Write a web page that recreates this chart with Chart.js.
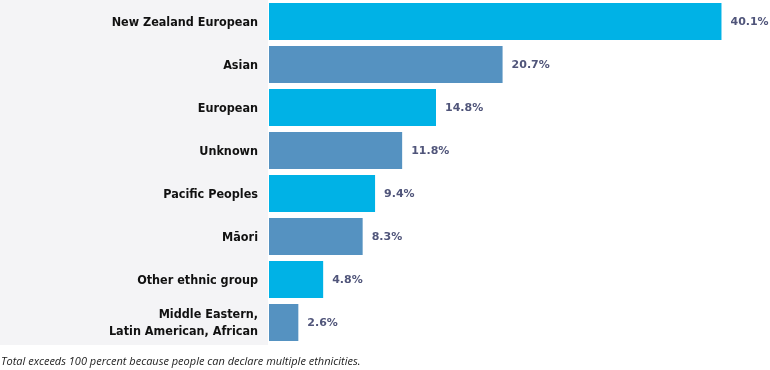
<!DOCTYPE html>
<html>
<head>
<meta charset="utf-8">
<script src="https://cdn.jsdelivr.net/npm/chart.js@4"></script>
<style>
html,body{margin:0;padding:0;background:#fff;}
#wrap{position:relative;width:770px;height:370px;}
</style>
</head>
<body>
<div id="wrap"><canvas id="c" width="770" height="370"></canvas></div>
<script>
const categories = [
  "New Zealand European",
  "Asian",
  "European",
  "Unknown",
  "Pacific Peoples",
  "Māori",
  "Other ethnic group",
  ["Middle Eastern,", "Latin American, African"]
];
const values = [40.1, 20.7, 14.8, 11.8, 9.4, 8.3, 4.8, 2.6];
const valueLabels = ["40.1%", "20.7%", "14.8%", "11.8%", "9.4%", "8.3%", "4.8%", "2.6%"];
const footnote = "Total exceeds 100 percent because people can declare multiple ethnicities.";

const CYAN = "#00b2e6";
const STEEL = "#5592c1";
const barColors = values.map((v, i) => i % 2 === 0 ? CYAN : STEEL);

const panelPlugin = {
  id: "panel",
  beforeDraw(chart) {
    const ctx = chart.ctx;
    ctx.save();
    ctx.fillStyle = "#f4f4f6";
    ctx.fillRect(0, 0, 268, 345);
    ctx.restore();
  },
  afterDraw(chart) {
    const ctx = chart.ctx;
    const yScale = chart.scales.y;
    ctx.save();
    // category labels
    ctx.fillStyle = "#111";
    ctx.font = "bold 12.5px 'DejaVu Sans Condensed', 'DejaVu Sans', sans-serif";
    ctx.textAlign = "right";
    ctx.textBaseline = "middle";
    chart.data.labels.forEach((lab, i) => {
      const y = yScale.getPixelForValue(i) + 1;
      const lines = Array.isArray(lab) ? lab : [lab];
      const lh = 17;
      const start = y - (lines.length - 1) * lh / 2;
      lines.forEach((ln, j) => ctx.fillText(ln, 258, start + j * lh));
    });
    // footnote
    ctx.fillStyle = "#222";
    ctx.font = "italic 11px 'Open Sans', sans-serif";
    ctx.textBaseline = "alphabetic";
    ctx.textAlign = "left";
    ctx.fillText(footnote, 1, 365);
    ctx.restore();
  }
};

const valuePlugin = {
  id: "values",
  afterDatasetsDraw(chart) {
    const ctx = chart.ctx;
    const meta = chart.getDatasetMeta(0);
    ctx.save();
    ctx.fillStyle = "#50557a";
    ctx.font = "bold 11px 'DejaVu Sans', sans-serif";
    ctx.textAlign = "left";
    ctx.textBaseline = "middle";
    meta.data.forEach((bar, i) => {
      ctx.fillText(valueLabels[i], bar.x + 9, bar.y + 1);
    });
    ctx.restore();
  }
};

new Chart(document.getElementById("c"), {
  type: "bar",
  data: {
    labels: categories,
    datasets: [{
      data: values,
      backgroundColor: barColors,
      borderWidth: 0,
      barPercentage: 0.86,
      categoryPercentage: 1.0
    }]
  },
  options: {
    indexAxis: "y",
    responsive: false,
    animation: false,
    devicePixelRatio: 1,
    layout: { padding: { left: 0, right: 0, top: 0, bottom: 26 } },
    plugins: {
      legend: { display: false },
      tooltip: { enabled: false }
    },
    scales: {
      x: {
        display: false,
        min: 0,
        max: 44.4
      },
      y: {
        afterFit(scale) { scale.width = 269; },
        grid: { display: false, drawTicks: false },
        border: { display: false },
        ticks: { display: false }
      }
    }
  },
  plugins: [panelPlugin, valuePlugin]
});
</script>
</body>
</html>
